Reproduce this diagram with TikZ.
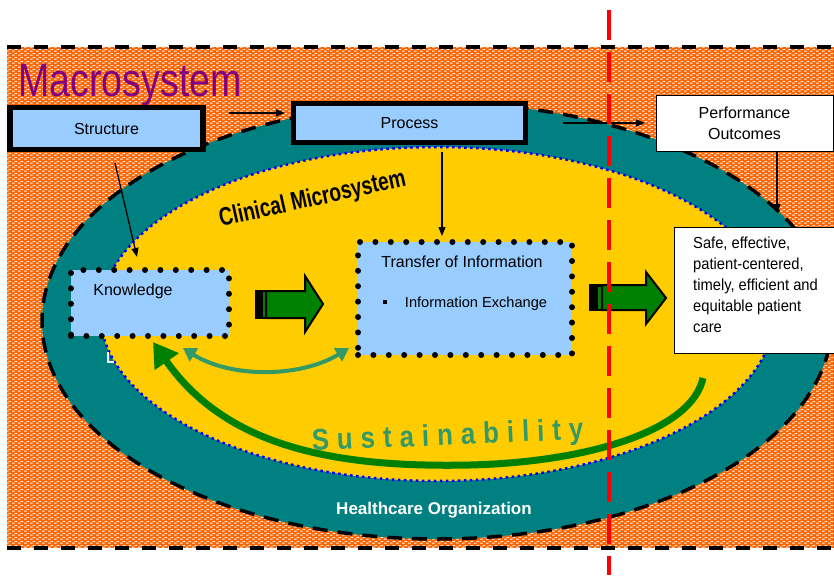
\documentclass[tikz,border=0pt]{standalone}
\usepackage{fontspec}
\setmainfont{Liberation Sans}
\newfontfamily\macfont[FakeStretch=0.8]{Liberation Sans}
\newfontfamily\clinfont[FakeStretch=0.75]{Liberation Sans Bold}
\newfontfamily\safefont[FakeStretch=0.92]{Liberation Sans}
\newfontfamily\sustfont[FakeStretch=0.86]{Liberation Sans Bold}
\usetikzlibrary{arrows.meta,patterns}
\definecolor{orangeA}{HTML}{FF6600}
\definecolor{tealA}{HTML}{008080}
\definecolor{yellowA}{HTML}{FFCC00}
\definecolor{blueL}{HTML}{99CCFF}
\definecolor{greenA}{HTML}{008000}
\definecolor{seaG}{HTML}{339966}
\definecolor{purpleA}{HTML}{800080}
\definecolor{redA}{HTML}{FF0000}
\definecolor{blueD}{HTML}{0000FF}
\pgfdeclarepatternformonly{macrodots}{\pgfqpoint{0pt}{0pt}}{\pgfqpoint{6pt}{4pt}}{\pgfqpoint{6pt}{4pt}}{%
  \pgfpathrectangle{\pgfqpoint{0pt}{0.5pt}}{\pgfqpoint{3pt}{1.2pt}}%
  \pgfpathrectangle{\pgfqpoint{3pt}{2.5pt}}{\pgfqpoint{3pt}{1.2pt}}%
  \pgfusepath{fill}%
}
\begin{document}
\begin{tikzpicture}[x=1pt,y=-1pt,
  every node/.style={inner sep=0pt, font=\fontsize{16}{19}\selectfont},
  heavybox/.style={draw=black, line width=5.5pt, fill=blueL},
  dotbox/.style={draw=black, fill=blueL, line width=6pt, dash pattern=on 0pt off 15.4pt, line cap=round},
  conn/.style={line width=1.3pt, -{Triangle[length=9pt,width=7pt]}},
  whitebox/.style={draw=black, fill=white, line width=0.8pt},
  blackdash/.style={black, line width=3.5pt, dash pattern=on 14pt off 13pt},
  blockarrow/.style={draw=black, fill=greenA, line width=2pt, line join=miter}
]
\useasboundingbox (0,0) rectangle (834,575);
\fill[white] (0,0) rectangle (834,575);
% Macrosystem field
\fill[orangeA] (7,47) rectangle (834,548);
\fill[pattern=macrodots, pattern color=white!92!orangeA] (7,47) rectangle (834,548);
\draw[blackdash] (7,47) -- (834,47);
\draw[blackdash] (7,548) -- (834,548);
% Healthcare organization ring
\draw[fill=tealA, draw=black, line width=3.5pt, dash pattern=on 15pt off 10pt] (437,321) ellipse [x radius=395pt, y radius=218pt];
% Clinical microsystem
\draw[fill=yellowA, draw=blueD, line width=2.5pt, dash pattern=on 2.5pt off 3.5pt] (437.5,314) ellipse [x radius=337pt, y radius=167pt];
\draw[white, line width=1.2pt] (108,352) -- (108,362) -- (114,362);

% titles
\node[anchor=base west, text=purpleA, font=\macfont\fontsize{47}{50}\selectfont] (macro) at (18,97) {Macrosystem};
\node[anchor=base west, rotate=12.6, font=\clinfont\fontsize{25.5}{28}\selectfont] (clin) at (221,227) {Clinical Microsystem};
\node[anchor=base, text=white, font=\bfseries\fontsize{17}{20}\selectfont] (hco) at (434,514) {Healthcare Organization};

% boxes
\node[heavybox, minimum width=193pt, minimum height=42pt] (structure) at (106.5,128.5) {Structure};
\node[heavybox, minimum width=232pt, minimum height=38.5pt] (process) at (409.5,123) {Process};
\node[dotbox, minimum width=158pt, minimum height=66pt] (know) at (150,303) {};
\node[anchor=base] (knowtxt) at (133,295) {Knowledge};
\node[dotbox, minimum width=214pt, minimum height=113pt] (transfer) at (465,298.5) {};
\node[anchor=base] (transtxt) at (462,267) {Transfer of Information};
\node[fill=black, minimum size=4pt] (bullet) at (385,302) {};
\node[anchor=base, font=\fontsize{14.6}{17}\selectfont] (infotxt) at (476,307.5) {Information Exchange};

% block arrows
\fill[black] (255,290) rectangle (266,319);
\fill[greenA] (262.5,292) rectangle (265,317);
\draw[blockarrow] (266,291) -- (305,291) -- (305,276) -- (323,304) -- (305,332) -- (305,318) -- (266,318) -- cycle;
\fill[black] (589,284) rectangle (602,311);
\fill[greenA] (598,286.5) rectangle (600.5,308.5);
\draw[blockarrow] (602,285) -- (646,285) -- (646,272) -- (666,298) -- (646,324) -- (646,310) -- (602,310) -- cycle;

% connectors
\coordinate (sp1) at (229,113);
\coordinate (sp2) at (285,113);
\draw[conn] (sp1) -- (sp2);
\coordinate (po1) at (563,123);
\coordinate (po2) at (645,123);
\draw[conn] (po1) -- (po2);
\coordinate (sk1) at (115,163);
\coordinate (sk2) at (137,257);
\draw[conn] (sk1) -- (sk2);
\coordinate (pt1) at (442,152);
\coordinate (pt2) at (442,236);
\draw[conn] (pt1) -- (pt2);

% exchange arrow
\coordinate (da1) at (183,348);
\coordinate (da2) at (349,348);
\draw[seaG, line width=4pt, {Triangle[length=13pt,width=15pt]}-{Triangle[length=13pt,width=15pt]}] (da1) .. controls (230,378) and (300,378) .. (da2);

% sustainability loop
\coordinate (sa0) at (703,378);
\coordinate (sa1) at (470,465);
\coordinate (sa2) at (153,342);
\draw[greenA, line width=7pt, -{Triangle[length=24pt,width=28pt]}] (sa0) .. controls (692,430) and (590,462) .. (sa1) .. controls (330,468) and (225,445) .. (sa2);
\node[anchor=base, rotate=2.5, text=seaG, font=\sustfont\fontsize{30}{32}\selectfont] (sust) at (448,445) {S\kern8pt u\kern8pt s\kern8pt t\kern8pt a\kern8pt i\kern8pt n\kern8pt a\kern8pt b\kern8pt i\kern8pt l\kern8pt i\kern8pt t\kern8pt y};

% red boundary
\coordinate (rl1) at (609,10);
\coordinate (rl2) at (609,575);
\draw[redA, line width=3.5pt, dash pattern=on 30pt off 12pt] (rl1) -- (rl2);

% outcomes
\node[whitebox, minimum width=177pt, minimum height=56pt, align=center, font=\fontsize{16}{21}\selectfont] (perf) at (744.5,123) {Performance\\Outcomes};
\node[whitebox, minimum width=160pt, minimum height=126pt] (safe) at (754,290) {};
\node[anchor=north west, align=left, font=\safefont\fontsize{16}{21}\selectfont] (safetxt) at (693,237) {Safe, effective,\\patient-centered,\\timely, efficient and\\equitable patient\\care};
\coordinate (pf1) at (777,151.5);
\coordinate (pf2) at (777,213);
\draw[conn] (pf1) -- (pf2);
\end{tikzpicture}
\end{document}
